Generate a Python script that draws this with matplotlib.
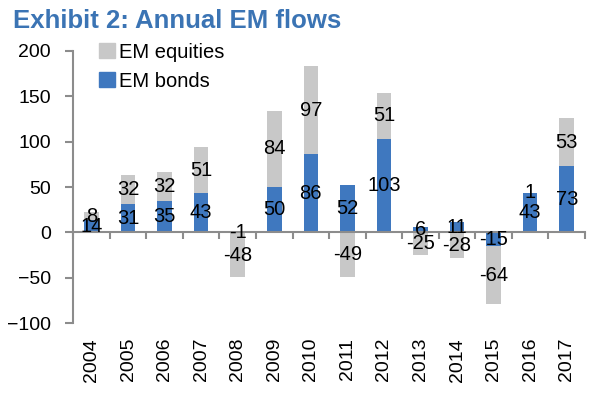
import matplotlib
matplotlib.use("Agg")
import matplotlib.pyplot as plt
from matplotlib.patches import Patch
import numpy as np

years = ["2004", "2005", "2006", "2007", "2008", "2009", "2010",
         "2011", "2012", "2013", "2014", "2015", "2016", "2017"]
em_bonds = [14, 31, 35, 43, -1, 50, 86, 52, 103, 6, 11, -15, 43, 73]
em_equities = [8, 32, 32, 51, -48, 84, 97, -49, 51, -25, -28, -64, 1, 53]

plt.rcParams["font.family"] = ["Liberation Sans", "DejaVu Sans"]

GREY = "#c8c8c8"
BLUE = "#3f78bf"
AXIS = "#8c8c8c"

fig = plt.figure(figsize=(6, 3.98), dpi=100)
ax = fig.add_axes([0.122, 0.188, 0.853, 0.684])

x = np.arange(len(years))
bonds = np.array(em_bonds, dtype=float)
eq = np.array(em_equities, dtype=float)
# stacking like excel: positive on positive, negative under negative
base = np.where(eq >= 0, np.clip(bonds, 0, None), np.clip(bonds, None, 0))

w = 0.4
ax.bar(x, bonds, w, color=BLUE, zorder=2)
ax.bar(x, eq, w, bottom=base, color=GREY, zorder=2)

for i in range(len(years)):
    ax.text(x[i], bonds[i] / 2, f"{em_bonds[i]}", ha="center", va="center",
            fontsize=14.5, color="black", zorder=3)
    ax.text(x[i], base[i] + eq[i] / 2, f"{em_equities[i]}", ha="center", va="center",
            fontsize=14.5, color="black", zorder=3)

ax.set_xlim(-0.5, len(years) - 0.5)
ax.set_ylim(-100, 200)
ax.set_yticks([-100, -50, 0, 50, 100, 150, 200])
ax.tick_params(axis="y", labelsize=14, length=6, width=1.5, color=AXIS, pad=10)

for s in ("top", "right"):
    ax.spines[s].set_visible(False)
ax.spines["left"].set_color(AXIS)
ax.spines["left"].set_linewidth(1.5)
ax.spines["bottom"].set_position(("data", 0))
ax.spines["bottom"].set_color(AXIS)
ax.spines["bottom"].set_linewidth(1.5)

ax.set_xticks(x)
ax.set_xticklabels(years, rotation=90, fontsize=14, va="top")
ax.set_xticks(np.arange(len(years) + 1) - 0.5, minor=True)
ax.tick_params(axis="x", which="major", length=0, pad=76)
ax.tick_params(axis="x", which="minor", length=5, width=1.5, color=AXIS)

handles = [Patch(color=GREY, label="EM equities"), Patch(color=BLUE, label="EM bonds")]
ax.legend(handles=handles, loc="upper left", bbox_to_anchor=(0.035, 1.06),
          frameon=False, fontsize=14.5, handlelength=0.8, handleheight=0.8,
          handletextpad=0.2, labelspacing=0.5, borderaxespad=0)

fig.text(0.022, 0.93, "Exhibit 2: Annual EM flows", fontsize=18.5, fontweight="bold",
         color="#3b74b4", ha="left", va="baseline")

fig.savefig("out.png", dpi=100)
